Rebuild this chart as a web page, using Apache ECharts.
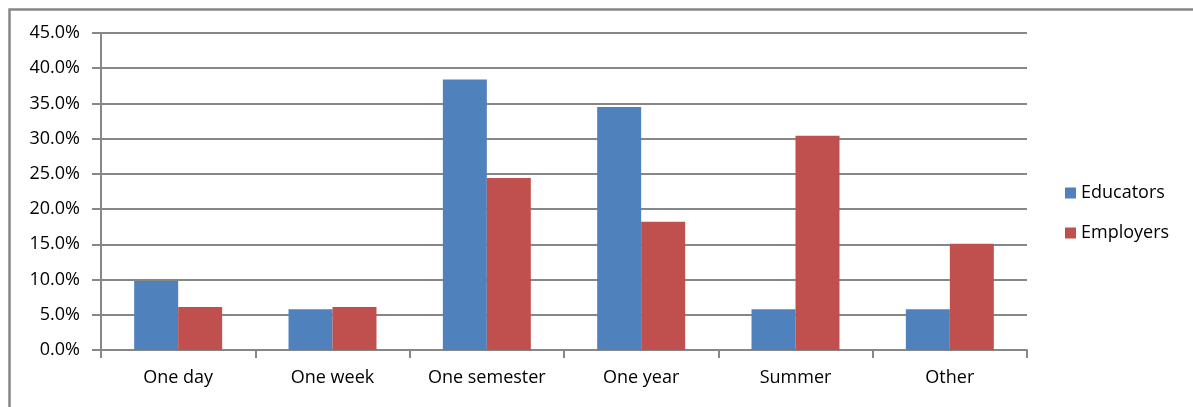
<!DOCTYPE html>
<html>
<head>
<meta charset="utf-8">
<script src="https://cdn.jsdelivr.net/npm/echarts@6/dist/echarts.min.js"></script>
<style>
  html, body { margin: 0; padding: 0; background: #fff; }
  #chart { width: 1193px; height: 407px; }
</style>
</head>
<body>
<div id="chart"></div>
<script>
var categories = ['One day', 'One week', 'One semester', 'One year', 'Summer', 'Other']
// percent values
var educators = [9.8, 5.8, 38.4, 34.5, 5.8, 5.8]
var employers = [6.1, 6.1, 24.4, 18.2, 30.4, 15.1]
var yTicks = [0, 5, 10, 15, 20, 25, 30, 35, 40, 45]

var chart = echarts.init(document.getElementById('chart'))

var gray = '#878787'
var font = '"Open Sans", Lato, sans-serif'

var option = {
  animation: false,
  textStyle: { fontFamily: font },
  graphic: [
    {
      type: 'rect',
      silent: true,
      shape: { x: 9.5, y: 9.5, width: 1400, height: 600 },
      style: { fill: 'none', stroke: gray, lineWidth: 2.5 }
    }
  ],
  legend: {
    orient: 'vertical',
    left: 1060,
    top: 179,
    itemWidth: 11,
    itemHeight: 11,
    itemGap: 22,
    icon: 'rect',
    textStyle: { fontSize: 18, color: '#000', fontFamily: font },
    data: ['Educators', 'Employers']
  },
  grid: {
    left: 101,
    right: 166,
    top: 33,
    bottom: 57
  },
  xAxis: {
    type: 'category',
    data: categories,
    axisLine: { lineStyle: { color: gray, width: 2 } },
    axisTick: { show: true, length: 8, lineStyle: { color: gray, width: 2 } },
    axisLabel: { color: '#000', fontSize: 18, margin: 19, fontFamily: font }
  },
  yAxis: {
    type: 'value',
    min: yTicks[0],
    max: yTicks[yTicks.length - 1],
    interval: 5,
    axisLine: { show: true, lineStyle: { color: gray, width: 2 } },
    axisTick: { show: true, length: 9, lineStyle: { color: gray, width: 2 } },
    splitLine: { show: true, lineStyle: { color: gray, width: 2 } },
    axisLabel: {
      color: '#000',
      fontSize: 18,
      margin: 21,
      fontFamily: font,
      formatter: function (v) { return v.toFixed(1) + '%' }
    }
  },
  series: [
    {
      name: 'Educators',
      type: 'bar',
      data: educators,
      barGap: '0%',
      barCategoryGap: '43%',
      itemStyle: { color: '#4F81BD' }
    },
    {
      name: 'Employers',
      type: 'bar',
      data: employers,
      barGap: '0%',
      barCategoryGap: '43%',
      itemStyle: { color: '#C0504D' }
    }
  ]
}

chart.setOption(option)
</script>
</body>
</html>
